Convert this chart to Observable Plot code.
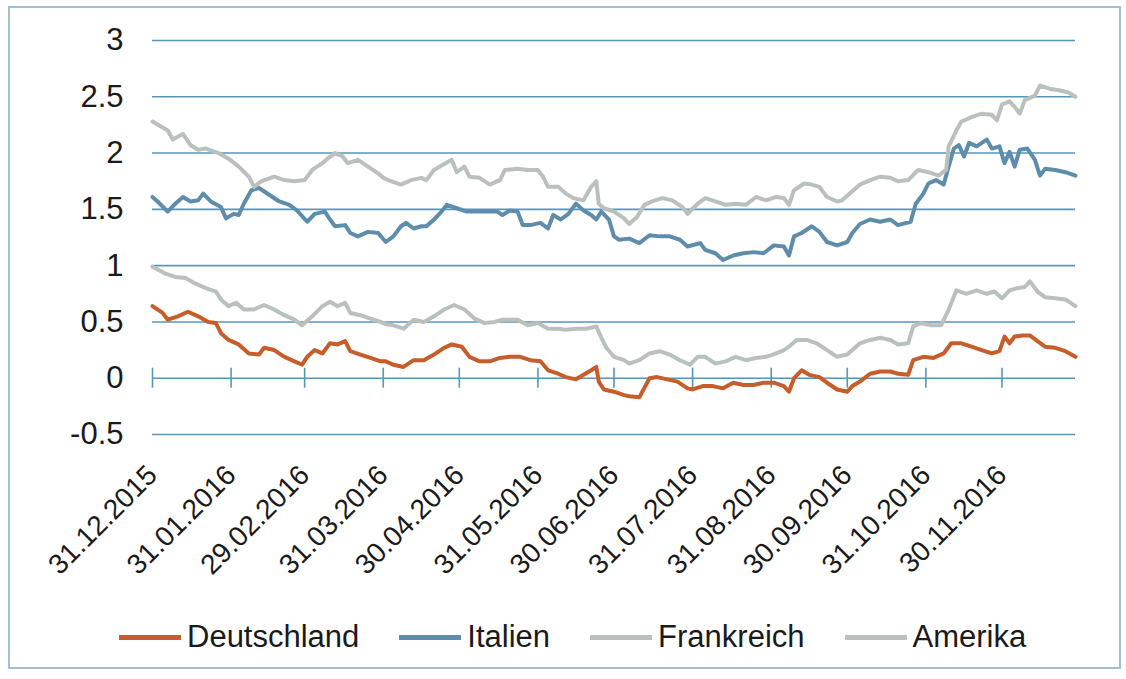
<!DOCTYPE html>
<html>
<head>
<meta charset="utf-8">
<script src="https://cdn.jsdelivr.net/npm/d3@7"></script>
<script src="https://cdn.jsdelivr.net/npm/@observablehq/plot@0.6"></script>
<style>
  body { margin: 0; background: #fff; font-family: "Liberation Sans", Arial, sans-serif; }
  #frame { position: absolute; left: 8px; top: 6px; width: 1113px; height: 663px; border: 2px solid #a3bfd2; box-sizing: border-box; }
  #chart { position: absolute; left: 0; top: 0; }
  #legend { position: absolute; left: 119px; top: 617px; height: 40px; display: flex; align-items: center; gap: 40px; font-size: 31px; color: #1a1a1a; }
  .item { display: flex; align-items: center; }
  .sw { display: inline-block; width: 62px; height: 5px; margin-right: 6px; }
</style>
</head>
<body>
<div id="frame"></div>
<div id="chart"></div>
<div id="legend"></div>
<script>
// Days since 31.12.2015 and yields (%)
const startDate = "31.12.2015";
const seriesNames = ["Deutschland", "Italien", "Frankreich", "Amerika"];
const seriesColors = ["#c65d2b", "#5e8dab", "#bac1bc", "#bac1bc"];

const deDays = [0,4,6,10,14,18,22,25,27,30,34,38,42,44,48,52,56,59,61,64,67,70,73,76,78,82,86,90,92,95,99,103,107,111,115,118,122,125,129,133,137,141,145,149,153,156,160,163,167,170,173,175,176,178,182,186,188,192,196,199,203,207,211,213,217,221,225,229,233,237,241,245,249,251,253,256,259,263,266,270,274,276,279,283,287,291,294,298,300,304,308,312,315,319,323,327,331,334,336,338,340,343,346,349,352,356,360,364];
const deValues = [0.64,0.58,0.52,0.55,0.59,0.55,0.50,0.49,0.40,0.34,0.30,0.22,0.21,0.27,0.25,0.19,0.15,0.12,0.19,0.25,0.22,0.31,0.30,0.33,0.24,0.21,0.18,0.15,0.15,0.12,0.10,0.16,0.16,0.21,0.27,0.30,0.28,0.19,0.15,0.15,0.18,0.19,0.19,0.16,0.15,0.07,0.04,0.01,-0.01,0.03,0.07,0.10,-0.03,-0.10,-0.12,-0.15,-0.16,-0.17,0.00,0.01,-0.01,-0.03,-0.09,-0.10,-0.07,-0.07,-0.09,-0.04,-0.06,-0.06,-0.04,-0.04,-0.07,-0.12,0.00,0.07,0.03,0.01,-0.04,-0.10,-0.12,-0.07,-0.03,0.04,0.06,0.06,0.04,0.03,0.16,0.19,0.18,0.22,0.31,0.31,0.28,0.25,0.22,0.24,0.37,0.31,0.37,0.38,0.38,0.33,0.28,0.27,0.24,0.19];

const itDays = [0,2,6,9,12,15,18,20,23,27,29,32,34,36,39,42,46,50,54,57,61,64,68,70,72,76,78,81,85,89,92,95,98,100,103,106,108,111,114,116,120,124,128,132,136,138,141,144,146,149,153,156,158,161,164,167,170,173,175,177,180,182,184,188,192,196,200,204,208,211,216,218,222,225,229,233,237,241,245,249,251,253,256,260,263,266,270,274,276,279,283,287,291,294,299,301,304,306,309,312,314,316,318,320,322,325,329,331,334,336,338,340,342,345,348,350,352,356,360,364];
const itValues = [1.61,1.57,1.48,1.55,1.61,1.57,1.58,1.64,1.57,1.52,1.42,1.46,1.45,1.55,1.67,1.69,1.63,1.57,1.54,1.49,1.39,1.46,1.48,1.41,1.35,1.36,1.29,1.26,1.30,1.29,1.21,1.26,1.35,1.38,1.33,1.35,1.35,1.41,1.48,1.54,1.51,1.48,1.48,1.48,1.48,1.45,1.49,1.48,1.36,1.36,1.38,1.33,1.45,1.41,1.46,1.55,1.49,1.45,1.41,1.48,1.41,1.26,1.23,1.24,1.20,1.27,1.26,1.26,1.23,1.17,1.20,1.14,1.11,1.05,1.09,1.11,1.12,1.11,1.18,1.17,1.09,1.26,1.29,1.35,1.30,1.21,1.18,1.21,1.29,1.37,1.41,1.39,1.41,1.36,1.39,1.55,1.64,1.73,1.76,1.72,1.88,2.04,2.07,1.97,2.09,2.06,2.12,2.04,2.06,1.91,2.01,1.88,2.03,2.04,1.94,1.80,1.86,1.85,1.83,1.80];

const frDays = [0,5,9,13,17,21,25,27,30,33,36,40,44,48,52,56,59,63,67,70,73,76,78,82,86,90,92,95,99,103,107,111,115,119,123,127,131,135,138,144,148,152,156,160,163,167,171,175,177,179,182,186,188,192,196,200,204,208,212,215,218,222,226,230,234,238,242,246,249,251,254,258,262,266,270,274,276,279,283,287,291,294,298,300,303,307,311,314,317,321,325,329,332,335,338,341,344,346,349,352,356,360,364];
const frValues = [0.99,0.93,0.90,0.89,0.84,0.80,0.77,0.70,0.64,0.67,0.61,0.61,0.65,0.61,0.56,0.52,0.47,0.55,0.64,0.68,0.64,0.67,0.58,0.56,0.53,0.50,0.48,0.47,0.44,0.52,0.50,0.55,0.61,0.65,0.61,0.53,0.49,0.50,0.52,0.52,0.47,0.49,0.44,0.44,0.43,0.44,0.44,0.46,0.36,0.27,0.19,0.16,0.13,0.16,0.22,0.24,0.21,0.16,0.12,0.19,0.19,0.13,0.15,0.19,0.16,0.18,0.19,0.22,0.25,0.28,0.34,0.34,0.31,0.25,0.19,0.21,0.25,0.31,0.34,0.36,0.34,0.30,0.31,0.46,0.49,0.47,0.47,0.61,0.78,0.75,0.78,0.75,0.77,0.71,0.78,0.80,0.81,0.86,0.77,0.72,0.71,0.70,0.64];

const usDays = [0,6,8,12,15,18,21,26,30,34,38,40,43,48,52,56,60,63,67,69,72,75,77,81,85,89,91,94,98,102,106,108,111,114,118,120,123,125,129,133,137,139,144,148,152,154,156,160,163,166,170,173,175,176,178,182,186,188,191,194,197,201,205,209,211,215,218,222,226,230,234,238,242,246,249,251,253,257,260,263,266,270,272,276,279,283,287,291,294,298,302,306,310,313,314,317,319,323,327,331,333,335,338,340,342,344,346,348,350,354,357,361,364];
const usValues = [2.28,2.20,2.12,2.17,2.07,2.03,2.04,2.00,1.95,1.88,1.79,1.70,1.75,1.79,1.76,1.75,1.76,1.85,1.91,1.95,2.00,1.97,1.91,1.94,1.88,1.82,1.78,1.75,1.72,1.76,1.78,1.76,1.85,1.89,1.94,1.83,1.88,1.79,1.78,1.72,1.76,1.85,1.86,1.85,1.85,1.79,1.70,1.70,1.64,1.60,1.58,1.70,1.75,1.55,1.51,1.48,1.42,1.37,1.43,1.54,1.57,1.60,1.58,1.52,1.46,1.55,1.60,1.57,1.54,1.55,1.54,1.61,1.58,1.61,1.60,1.54,1.67,1.73,1.72,1.70,1.61,1.57,1.58,1.66,1.72,1.76,1.79,1.78,1.75,1.76,1.85,1.83,1.80,1.85,2.06,2.20,2.28,2.32,2.35,2.34,2.29,2.43,2.46,2.41,2.35,2.47,2.49,2.51,2.60,2.57,2.56,2.54,2.50];

const yTicks = [-0.5, 0, 0.5, 1, 1.5, 2, 2.5, 3];
const xTickLabels = ["31.12.2015","31.01.2016","29.02.2016","31.03.2016","30.04.2016","31.05.2016","30.06.2016","31.07.2016","31.08.2016","30.09.2016","31.10.2016","30.11.2016"];
const lastDay = 364;

const parse = d3.utcParse("%d.%m.%Y");
const start = parse(startDate);
const tickDates = xTickLabels.map(parse);
const allDays = [deDays, itDays, frDays, usDays];
const allValues = [deValues, itValues, frValues, usValues];
const series = seriesNames.map((name, k) =>
  allDays[k].map((d, i) => ({series: name, date: d3.utcDay.offset(start, d), value: allValues[k][i]})));

const grid = "#5796ba";
const textColor = "#1a1a1a";

const chart = Plot.plot({
  width: 1126,
  height: 584,
  marginLeft: 152,
  marginRight: 51,
  marginTop: 40,
  marginBottom: 150,
  x: {type: "utc", domain: [start, d3.utcDay.offset(start, lastDay)], axis: null},
  y: {domain: [-0.5, 3], axis: null},
  style: {fontFamily: "'Liberation Sans', Arial, sans-serif", color: textColor, background: "transparent", overflow: "visible"},
  marks: [
    Plot.ruleY(yTicks, {stroke: grid, strokeWidth: 1.6}),
    Plot.ruleX(tickDates, {x: d => d, y1: 0, y2: 0, insetTop: -10, insetBottom: -10, stroke: grid, strokeWidth: 1.6}),
    Plot.axisY(yTicks, {tickSize: 0, tickPadding: 29, fontSize: 31, tickFormat: d => String(d), label: null, fill: textColor}),
    Plot.text(tickDates, {x: d => d, text: (d, i) => xTickLabels[i], frameAnchor: "bottom", dy: 36, rotate: -45, textAnchor: "end", lineAnchor: "middle", fontSize: 28, fill: textColor}),
    ...series.map((s, k) => Plot.line(s, {x: "date", y: "value", stroke: seriesColors[k], strokeWidth: 4, strokeLinejoin: "round", strokeLinecap: "round"}))
  ]
});
document.getElementById("chart").appendChild(chart);

const legend = document.getElementById("legend");
seriesNames.forEach((name, k) => {
  const item = document.createElement("div");
  item.className = "item";
  const sw = document.createElement("span");
  sw.className = "sw";
  sw.style.background = seriesColors[k];
  const label = document.createElement("span");
  label.textContent = name;
  item.appendChild(sw);
  item.appendChild(label);
  legend.appendChild(item);
});
</script>
</body>
</html>
